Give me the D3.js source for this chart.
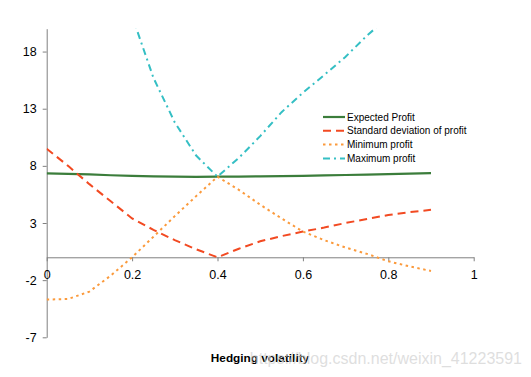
<!DOCTYPE html>
<html>
<head>
<meta charset="utf-8">
<script src="https://cdn.jsdelivr.net/npm/d3@7"></script>
<style>
  body { margin: 0; background: #fff; }
  svg { display: block; font-family: Arial, "Liberation Sans", sans-serif; }
</style>
</head>
<body>
<div id="chart"></div>
<script>
// hedging volatility on the x axis
let volatility = [0, 0.05, 0.1, 0.15, 0.2, 0.25, 0.3, 0.35, 0.4, 0.45,
    0.5, 0.55, 0.6, 0.65, 0.7, 0.75, 0.8, 0.85, 0.9];

let expectedProfit = [7.35, 7.3, 7.25, 7.18, 7.12, 7.08, 7.05, 7.04, 7.05, 7.06,
    7.08, 7.1, 7.13, 7.17, 7.2, 7.24, 7.28, 7.32, 7.36];
let stdDevProfit = [9.5, 8.0, 6.4, 4.9, 3.4, 2.4, 1.5, 0.7, 0.0, 0.75,
    1.4, 1.85, 2.25, 2.6, 3.0, 3.35, 3.7, 3.95, 4.15];
let minProfit = [-3.7, -3.65, -3.0, -1.6, 0.0, 1.8, 3.6, 5.35, 7.05, 5.9,
    4.6, 3.4, 2.25, 1.5, 0.85, 0.3, -0.35, -0.8, -1.2];
// only the part that stays (about) inside the plotted range was readable
let maxProfit = [null, null, null, null, 21.1, 15.7, 11.8, 8.9, 7.05, 8.7,
    10.6, 12.7, 14.4, 15.95, 17.55, 19.4, 21.0, null, null];

let xTicks = [0, 0.2, 0.4, 0.6, 0.8, 1];
let yTicks = [-7, -2, 3, 8, 13, 18];

let series = [
    {name: 'Expected Profit', values: expectedProfit, color: '#3b7d3b', width: 2.2, dash: null},
    {name: 'Standard deviation of profit', values: stdDevProfit, color: '#f24a22', width: 2, dash: '8,5'},
    {name: 'Minimum profit', values: minProfit, color: '#fb9a3c', width: 2, dash: '2.5,3.5'},
    {name: 'Maximum profit', values: maxProfit, color: '#35bfc4', width: 2, dash: '7,4,2,4'}
];

let width = 531, height = 377;

let svg = d3.select('#chart').append('svg')
    .attr('width', width)
    .attr('height', height);

let x = d3.scaleLinear().domain([0, 1]).range([46.7, 473.7]);
let y = d3.scaleLinear().domain([-7, 20]).range([337.3, 28.7]);

svg.append('defs').append('clipPath')
    .attr('id', 'plot-clip')
    .append('rect')
    .attr('x', x(0))
    .attr('y', y(20))
    .attr('width', x(1) - x(0))
    .attr('height', y(-7) - y(20));

// y axis, plain hyphen for negatives like the original
let yAxis = svg.append('g')
    .attr('transform', `translate(${x(0)},0)`)
    .call(d3.axisLeft(y).tickValues(yTicks).tickSize(4).tickPadding(6)
        .tickSizeOuter(0).tickFormat(d => String(d)));

// x axis at zero
let xAxis = svg.append('g')
    .attr('transform', `translate(0,${y(0)})`)
    .call(d3.axisBottom(x).tickValues(xTicks).tickSize(4).tickPadding(9)
        .tickSizeOuter(0).tickFormat(d => String(d)));

[xAxis, yAxis].forEach(g => {
    g.select('.domain').attr('stroke', '#808080');
    g.selectAll('.tick line').attr('stroke', '#808080');
    g.selectAll('.tick text')
        .attr('fill', '#000')
        .style('font-size', '12.5px')
        .style('font-family', 'Arial, "Liberation Sans", sans-serif');
});

let line = d3.line()
    .defined(d => d[1] !== null)
    .x(d => x(d[0]))
    .y(d => y(d[1]));

let lines_g = svg.append('g')
    .attr('clip-path', 'url(#plot-clip)');

lines_g.selectAll('.series')
    .data(series)
    .join('path')
    .attr('class', 'series')
    .attr('fill', 'none')
    .attr('stroke', d => d.color)
    .attr('stroke-width', d => d.width)
    .attr('stroke-dasharray', d => d.dash)
    .attr('d', d => line(volatility.map((v, i) => [v, d.values[i]])));

// legend
let legend = svg.append('g')
    .attr('transform', 'translate(323,117)');

let items = legend.selectAll('.item')
    .data(series)
    .join('g')
    .attr('class', 'item')
    .attr('transform', (d, i) => `translate(0,${i * 13.8})`);

items.append('line')
    .attr('x1', 0).attr('x2', 22)
    .attr('y1', 0).attr('y2', 0)
    .attr('stroke', d => d.color)
    .attr('stroke-width', d => d.width)
    .attr('stroke-dasharray', d => d.dash);

items.append('text')
    .attr('x', 24)
    .attr('dy', '0.35em')
    .style('font-size', '10px')
    .attr('fill', '#000')
    .text(d => d.name);

// axis title
svg.append('text')
    .attr('x', 260)
    .attr('y', 362)
    .attr('text-anchor', 'middle')
    .style('font-size', '11.8px')
    .style('font-weight', 'bold')
    .text('Hedging volatility');

// blog watermark
svg.append('text')
    .attr('x', 522)
    .attr('y', 364)
    .attr('text-anchor', 'end')
    .style('font-size', '16px')
    .attr('fill', '#d4d4d4')
    .attr('fill-opacity', 0.75)
    .text('https://blog.csdn.net/weixin_41223591');
</script>
</body>
</html>
